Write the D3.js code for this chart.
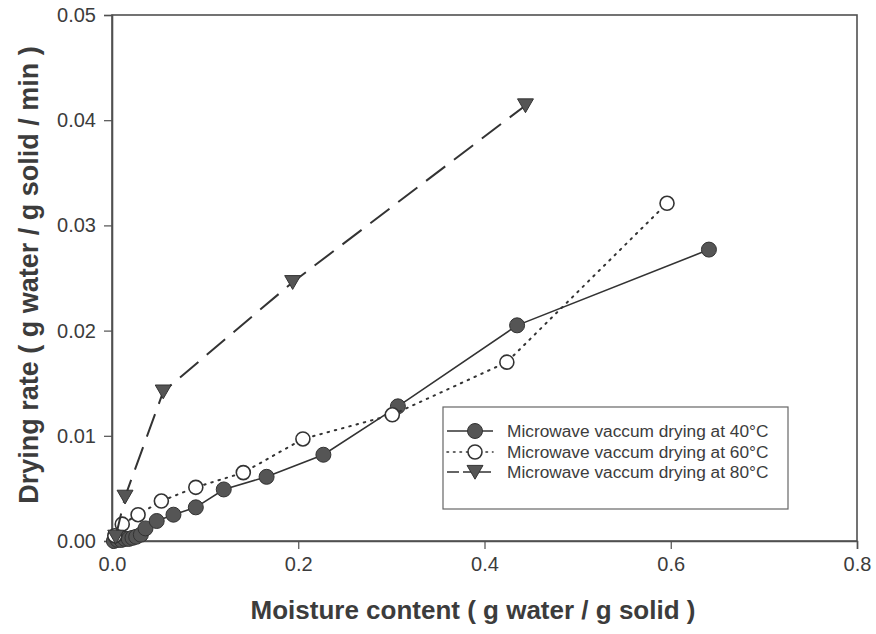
<!DOCTYPE html>
<html>
<head>
  <style>
    body { margin: 0; background: #fff; }
    svg text { font-family: "Liberation Sans", Arial, sans-serif; }
  </style>
</head>
<body>
  <script src="https://d3js.org/d3.v7.min.js"></script>
  <script>
    // values
    const x40 = [0.002, 0.006, 0.010, 0.014, 0.018, 0.022, 0.026, 0.031, 0.036, 0.048, 0.066, 0.090, 0.120, 0.166, 0.227, 0.307, 0.435, 0.641];
    const y40 = [0.0000, 0.0001, 0.0001, 0.0002, 0.0002, 0.0003, 0.0004, 0.0006, 0.0012, 0.0019, 0.0025, 0.0032, 0.0049, 0.0061, 0.0082, 0.0128, 0.0205, 0.0277];

    const x60 = [0.003, 0.011, 0.028, 0.053, 0.090, 0.141, 0.205, 0.301, 0.424, 0.596];
    const y60 = [0.0005, 0.0016, 0.0025, 0.0038, 0.0051, 0.0065, 0.0097, 0.0120, 0.0170, 0.0321];

    const x80 = [0.004, 0.014, 0.055, 0.194, 0.444];
    const y80 = [0.0004, 0.0042, 0.0142, 0.0246, 0.0414];

    const xTicks = [0, 0.2, 0.4, 0.6, 0.8];
    const yTicks = [0, 0.01, 0.02, 0.03, 0.04, 0.05];
    const legendLabels = ["Microwave vaccum drying at 40°C", "Microwave vaccum drying at 60°C", "Microwave vaccum drying at 80°C"];

    const w = 876, h = 634;
    const mLeft = 112, mRight = 857, mTop = 15, mBottom = 541;

    const xScale = d3.scaleLinear().domain([0, 0.8]).range([mLeft, mRight]);
    const yScale = d3.scaleLinear().domain([0, 0.05]).range([mBottom, mTop]);

    const svg = d3.select("body").append("svg")
      .attr("width", w)
      .attr("height", h);

    const ink = "#333";
    const txt = "#3c3c3c";

    // frame
    svg.append("rect")
      .attr("x", mLeft).attr("y", mTop)
      .attr("width", mRight - mLeft).attr("height", mBottom - mTop)
      .attr("fill", "none").attr("stroke", "#505050").attr("stroke-width", 1.6);

    const xAxis = d3.axisBottom(xScale).tickValues(xTicks).tickFormat(d3.format(".1f")).tickSize(8).tickPadding(8);
    const yAxis = d3.axisLeft(yScale).tickValues(yTicks).tickFormat(d3.format(".2f")).tickSize(8).tickPadding(8);

    const gx = svg.append("g").attr("transform", "translate(0," + mBottom + ")").call(xAxis);
    const gy = svg.append("g").attr("transform", "translate(" + mLeft + ",0)").call(yAxis);
    [gx, gy].forEach(g => {
      g.select(".domain").attr("stroke", "#505050").attr("stroke-width", 1.6);
      g.selectAll(".tick line").attr("stroke", "#505050").attr("stroke-width", 1.2);
      g.selectAll(".tick text").attr("fill", txt).style("font-size", "20px");
    });

    // axis titles
    svg.append("text")
      .attr("x", 473).attr("y", 619)
      .attr("text-anchor", "middle")
      .attr("fill", txt).style("font-size", "26px").style("font-weight", "bold")
      .text("Moisture content ( g water / g solid )");

    svg.append("text")
      .attr("transform", "translate(38,275) rotate(-90)")
      .attr("text-anchor", "middle")
      .attr("fill", txt).style("font-size", "27px").style("font-weight", "bold")
      .text("Drying rate ( g water / g solid / min )");

    const line = d3.line().x(d => xScale(d[0])).y(d => yScale(d[1]));
    const pts = (xs, ys) => xs.map((v, i) => [v, ys[i]]);

    const series = [
      { data: pts(x40, y40), dash: null, width: 1.6, kind: "filled" },
      { data: pts(x60, y60), dash: "1.5,6", width: 2, kind: "open" },
      { data: pts(x80, y80), dash: "24,11", width: 2, kind: "tri" }
    ];

    const tri = d3.symbol().type(d3.symbolTriangle).size(110);

    function drawMarker(g, kind, cx, cy) {
      if (kind === "filled") {
        g.append("circle").attr("cx", cx).attr("cy", cy).attr("r", 7.5)
          .attr("fill", "#555").attr("stroke", "#333").attr("stroke-width", 1);
      } else if (kind === "open") {
        g.append("circle").attr("cx", cx).attr("cy", cy).attr("r", 7)
          .attr("fill", "#fff").attr("stroke", "#333").attr("stroke-width", 1.6);
      } else {
        g.append("path").attr("d", tri)
          .attr("transform", "translate(" + cx + "," + (cy - 2) + ") rotate(180)")
          .attr("fill", "#555").attr("stroke", "#333").attr("stroke-width", 1);
      }
    }

    series.forEach(s => {
      svg.append("path")
        .datum(s.data)
        .attr("d", line)
        .attr("fill", "none")
        .attr("stroke", ink)
        .attr("stroke-width", s.width)
        .attr("stroke-linecap", s.kind === "open" ? "round" : "butt")
        .attr("stroke-dasharray", s.dash);
      const g = svg.append("g");
      s.data.forEach(d => drawMarker(g, s.kind, xScale(d[0]), yScale(d[1])));
    });

    // legend
    const lg = svg.append("g");
    lg.append("rect")
      .attr("x", 443).attr("y", 407).attr("width", 345).attr("height", 102)
      .attr("fill", "#fff").attr("stroke", "#666").attr("stroke-width", 1.2);
    const rowY = [431, 452, 472];
    series.forEach((s, i) => {
      lg.append("line")
        .attr("x1", 447).attr("x2", 493).attr("y1", rowY[i]).attr("y2", rowY[i])
        .attr("stroke", ink).attr("stroke-width", 1.6)
        .attr("stroke-linecap", s.kind === "open" ? "round" : "butt")
        .attr("stroke-dasharray", s.kind === "open" ? "1.5,5" : (s.kind === "tri" ? "12,4" : null));
      drawMarker(lg, s.kind, 475, rowY[i]);
      lg.append("text")
        .attr("x", 507).attr("y", rowY[i] + 6)
        .attr("fill", txt).style("font-size", "17.3px")
        .text(legendLabels[i]);
    });
  </script>
</body>
</html>
